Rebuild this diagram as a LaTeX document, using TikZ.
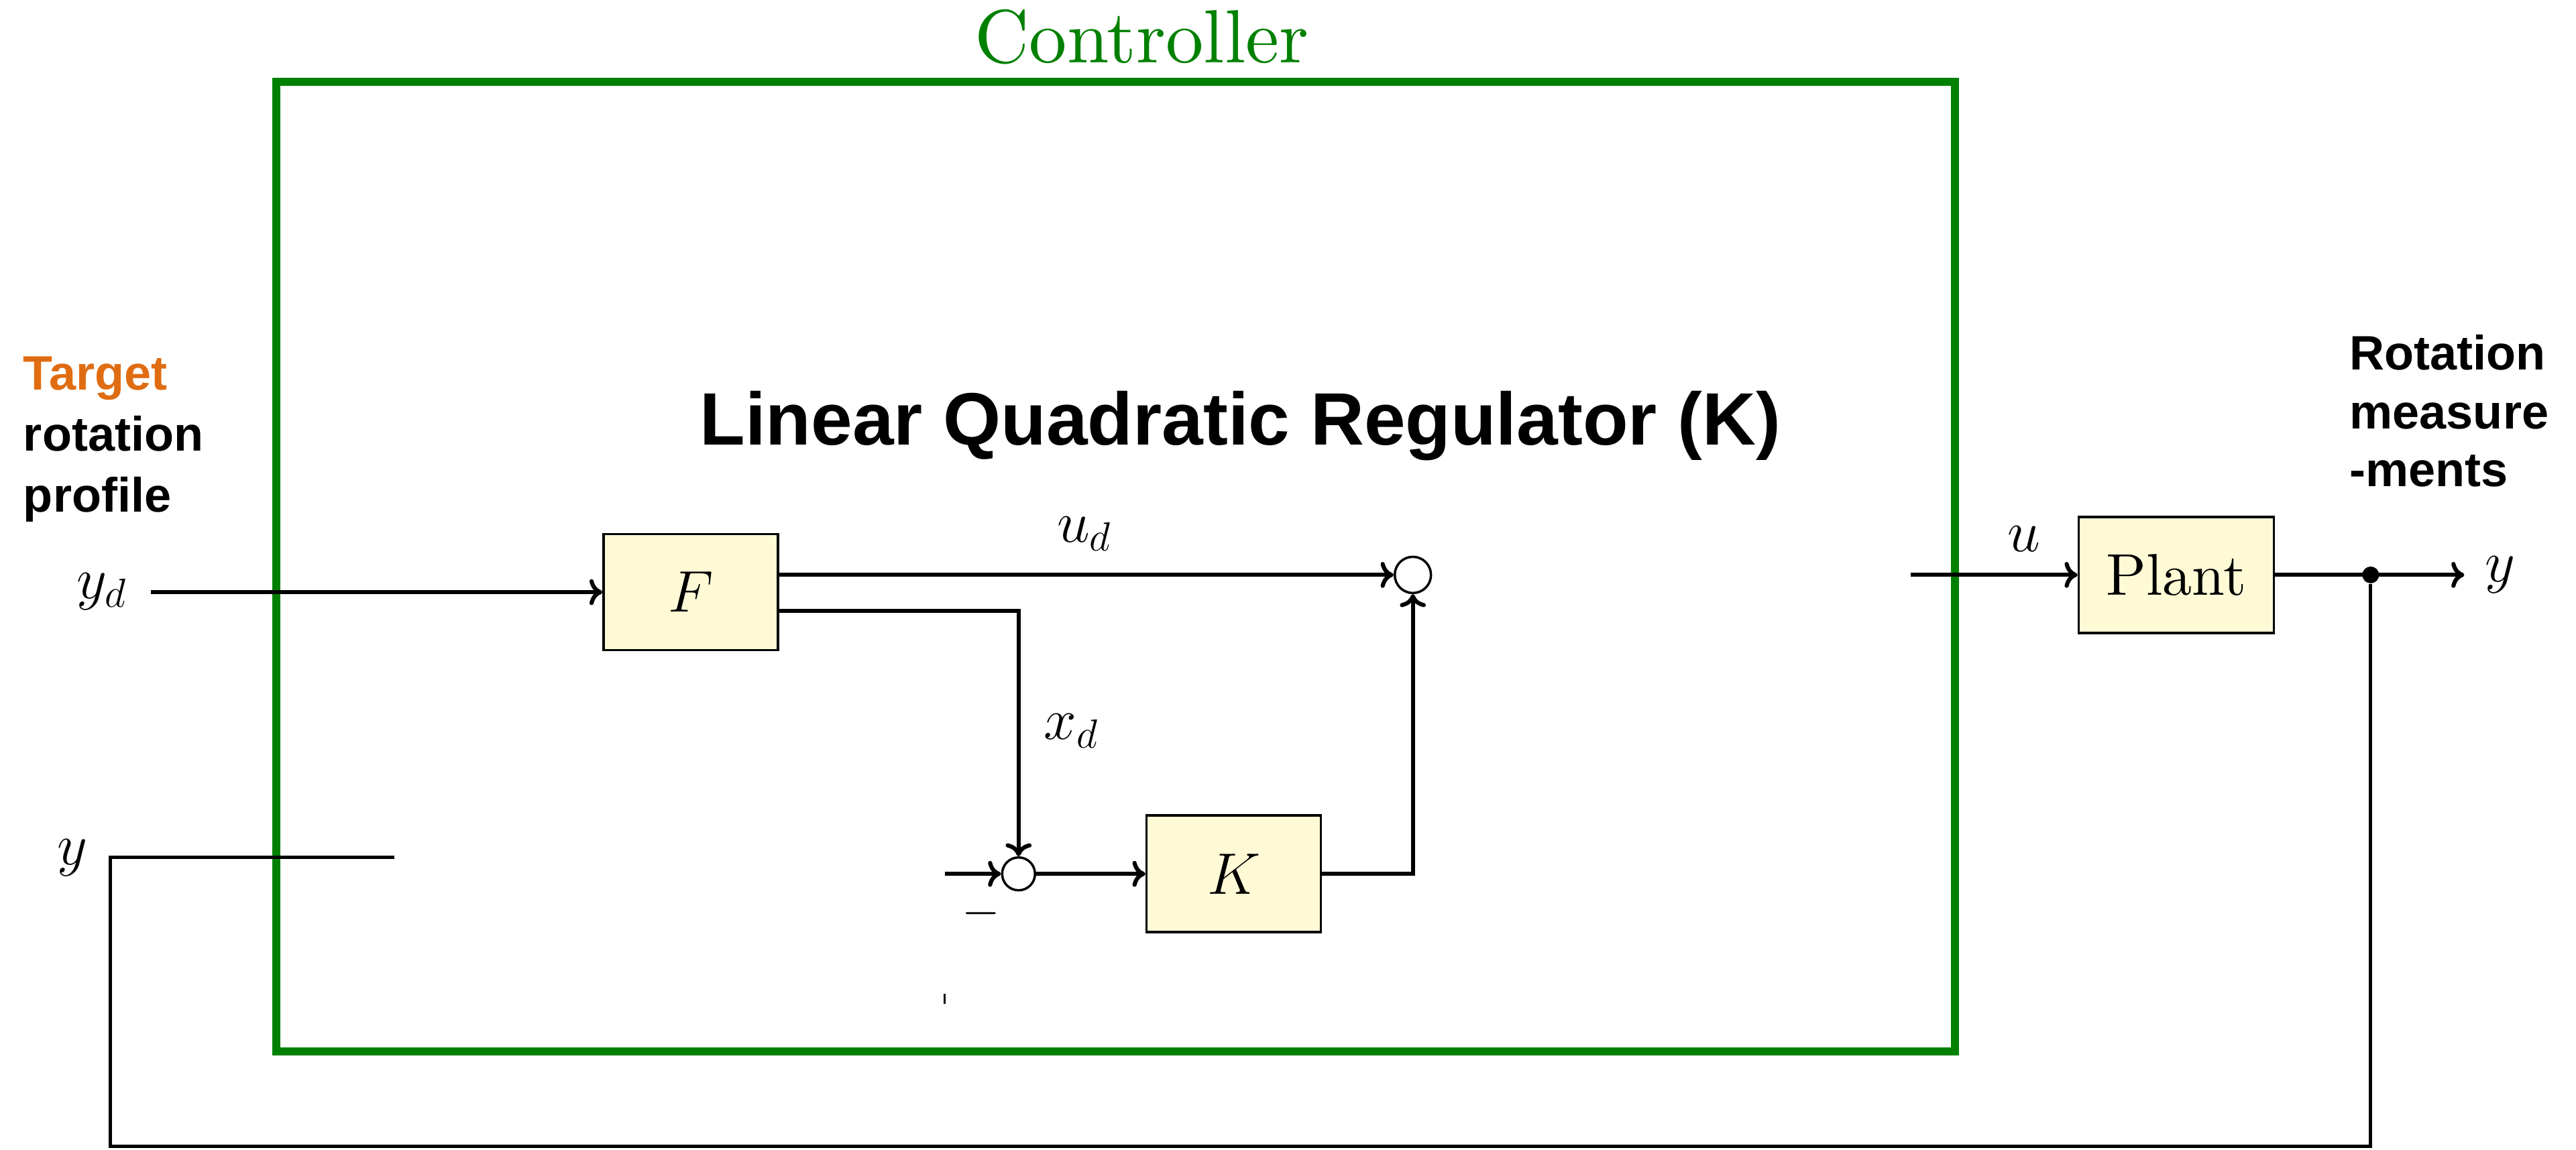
\documentclass[tikz,border=0pt]{standalone}
\usepackage{fontspec}
\usetikzlibrary{arrows.meta}
\newfontfamily\labelsans{Liberation Sans}
\newfontfamily\blockroman{lmroman10-regular.otf}
\definecolor{ctrlgreen}{RGB}{0,128,0}
\definecolor{targetorange}{RGB}{224,108,18}
\definecolor{blockfill}{RGB}{255,250,214}

\begin{document}
\begin{tikzpicture}[x=0.024496cm, y=-0.024496cm, >={To[length=5.5pt,width=11pt]},
		block/.style={draw, line width=1pt, fill=blockfill, inner sep=0pt, font=\blockroman\fontsize{25}{30}\selectfont},
		sumnode/.style={draw, circle, line width=1pt, fill=white, inner sep=0pt},
		signal/.style={line width=1.75pt},
		mathlbl/.style={inner sep=0pt, font=\fontsize{25}{30}\selectfont},
		sidelbl/.style={anchor=base west, inner sep=0pt, font=\labelsans\bfseries\fontsize{20.5}{25}\selectfont}]
		\useasboundingbox (0,0) rectangle (1568,700);

		% controller frame
		\draw[ctrlgreen, line width=3.4pt] (168,50) rectangle (1190,640);
		\node[anchor=base, inner sep=0pt, text=ctrlgreen, font=\blockroman\fontsize{32}{38}\selectfont] (ctrltitle) at (695,38) {Controller};
		\node[anchor=base, inner sep=0pt, font=\labelsans\bfseries\fontsize{31.5}{38}\selectfont] (lqrtitle) at (755,271) {Linear Quadratic Regulator (K)};

		% blocks and sums
		\node[block, minimum width=2.6cm, minimum height=1.73cm] (F) at (420.5,360.5) {$F$};
		\node[block, minimum width=2.6cm, minimum height=1.74cm] (K) at (751,532) {$K$};
		\node[block, minimum width=2.91cm, minimum height=1.73cm] (plant) at (1324.7,350) {Plant};
		\node[sumnode, minimum size=0.54cm] (sumA) at (860,350) {};
		\node[sumnode, minimum size=0.49cm] (sumB) at (620,532) {};
		\node[circle, fill, inner sep=0pt, minimum size=0.25cm] (branch) at (1443,350) {};

		\coordinate (ydin) at (92,360.5);
		\coordinate (xdturn) at (620,372);
		\coordinate (fbin) at (575,532);
		\coordinate (uin) at (1163,350);
		\coordinate (yout) at (1500,350);
		\coordinate (fbcorner) at (67,698);
		\coordinate (fbend) at (240,522);

		% signals
		\draw[signal, ->] (ydin) -- (F.west);
		\draw[signal, ->] (F.east |- sumA) -- (sumA.west);
		\draw[signal, ->] (F.east |- xdturn) -- (xdturn) -- (sumB.north);
		\draw[signal, ->] (fbin) -- (sumB.west);
		\draw[signal, ->] (sumB.east) -- (K.west);
		\draw[signal, ->] (K.east) -| (sumA.south);
		\draw[signal, ->] (uin) -- (plant.west);
		\draw[signal, ->] (plant.east) -- (yout);
		\draw[line width=1.4pt] (branch) |- (fbcorner) |- (fbend);
		\draw[line width=0.8pt] (575,605) -- (575,611);

		% labels
		\node[mathlbl] (ydlbl) at (62,360) {$y_d$};
		\node[mathlbl] (udlbl) at (660,325) {$u_d$};
		\node[mathlbl] (xdlbl) at (652,445) {$x_d$};
		\node[inner sep=0pt, font=\fontsize{20}{24}\selectfont] (minuslbl) at (597,556) {$-$};
		\node[mathlbl] (ulbl) at (1232,328) {$u$};
		\node[mathlbl] (youtlbl) at (1522,350) {$y$};
		\node[mathlbl] (yfblbl) at (44,522) {$y$};

		\node[sidelbl, text=targetorange] (targetA) at (14,237.5) {Target};
		\node[sidelbl] (targetB) at (14,274.5) {rotation};
		\node[sidelbl] (targetC) at (14,311.5) {profile};
		\node[sidelbl] (measA) at (1430,225) {Rotation};
		\node[sidelbl] (measB) at (1430,261) {measure};
		\node[sidelbl] (measC) at (1430,296) {-ments};
	\end{tikzpicture}
\end{document}
